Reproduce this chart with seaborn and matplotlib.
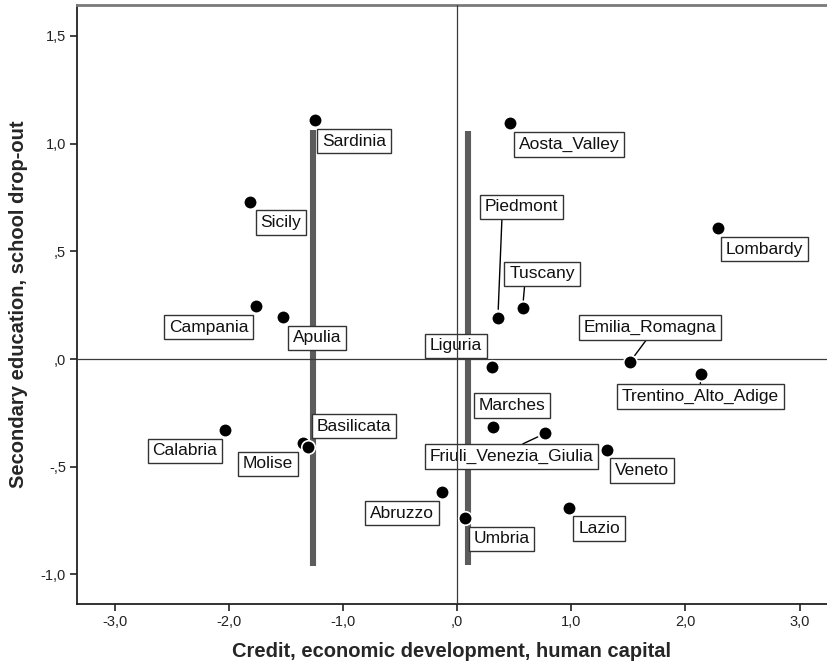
import matplotlib
matplotlib.use("Agg")
import matplotlib.pyplot as plt
from matplotlib.ticker import FuncFormatter, FixedLocator
import seaborn as sns
import pandas as pd

# ---- data ----
regions = ["Sardinia", "Sicily", "Campania", "Apulia", "Calabria", "Molise",
           "Basilicata", "Abruzzo", "Aosta_Valley", "Piedmont", "Tuscany",
           "Lombardy", "Emilia_Romagna", "Trentino_Alto_Adige", "Liguria",
           "Marches", "Friuli_Venezia_Giulia", "Veneto", "Lazio", "Umbria"]
credit = [-1.246, -1.816, -1.763, -1.526, -2.035, -1.348, -1.304, -0.129,
          0.459, 0.357, 0.573, 2.287, 1.512, 2.132, 0.304, 0.310, 0.772,
          1.313, 0.982, 0.070]
education = [1.109, 0.729, 0.246, 0.195, -0.329, -0.391, -0.410, -0.619,
             1.094, 0.192, 0.235, 0.609, -0.015, -0.071, -0.036, -0.314,
             -0.345, -0.422, -0.690, -0.739]

# grey vertical bars (x position, bottom, top)
bar_x = [-1.266, 0.096]
bar_low = [-0.961, -0.956]
bar_high = [1.063, 1.058]

x_ticks = [-3.0, -2.0, -1.0, 0.0, 1.0, 2.0, 3.0]
y_ticks = [-1.0, -0.5, 0.0, 0.5, 1.0, 1.5]

# ---- layout: label offsets (pixels, right / down) and leader-line anchors ----
label_offsets = {
    "Sardinia": (39, 21), "Sicily": (31, 20.5), "Campania": (-47.5, 21),
    "Apulia": (34, 21), "Calabria": (-40, 21), "Molise": (-35.3, 20.7),
    "Basilicata": (45.7, -21.3), "Abruzzo": (-40.6, 20.7),
    "Aosta_Valley": (59.7, 21.2), "Piedmont": (23.3, -110.7),
    "Tuscany": (19.5, -34.5), "Lombardy": (46.3, 21.3),
    "Emilia_Romagna": (20, -34.5), "Trentino_Alto_Adige": (-0.2, 22.4),
    "Liguria": (-35.9, -20.9), "Marches": (19.7, -20.9),
    "Friuli_Venezia_Giulia": (-33.7, 23.4), "Veneto": (35.3, 20.8),
    "Lazio": (29.8, 20.6), "Umbria": (36.3, 20.7),
}
leaders = {"Piedmont": (0.24, 0.0), "Tuscany": (0.24, 0.0),
           "Emilia_Romagna": (0.5, 0.0), "Friuli_Venezia_Giulia": (0.5, 1.0),
           "Trentino_Alto_Adige": (0.5, 1.0)}

df = pd.DataFrame({"region": regions, "credit": credit, "education": education})

sns.set_style("white")
plt.rcParams["font.family"] = ["Liberation Sans", "DejaVu Sans"]

fig = plt.figure(figsize=(8.27, 6.68), dpi=100)
ax = fig.add_axes([77 / 827, 1 - 604 / 668, 1 - 77 / 827, (604 - 5) / 668])

# grey bars
ax.vlines(bar_x, bar_low, bar_high, colors="#5c5c5c", linewidth=4.4, zorder=1)

# reference lines at zero
ax.axhline(0, color="#3a3a3a", linewidth=0.9, zorder=4)
ax.axvline(0, color="#3a3a3a", linewidth=0.9, zorder=4)

sns.scatterplot(data=df, x="credit", y="education", ax=ax, s=95, color="black",
                edgecolor="white", linewidth=1.2, zorder=5, legend=False)

for r, xv, yv in zip(regions, credit, education):
    dx, dy = label_offsets[r]
    kw = {}
    if r in leaders:
        kw["arrowprops"] = dict(arrowstyle="-", color="black", lw=1.0,
                                relpos=leaders[r], shrinkA=0, shrinkB=6)
    ax.annotate(r, (xv, yv), xytext=(dx, -dy), textcoords="offset pixels",
                ha="center", va="center", fontsize=12.5, color="#111111",
                bbox=dict(boxstyle="square,pad=0.28", fc="white",
                          ec="#333333", lw=1.0),
                zorder=3, **kw)

ax.set_xlim(-3.33, 3.24)
ax.set_ylim(-1.137, 1.643)


def fmt(v, pos=None):
    s = f"{v:.1f}".replace(".", ",")
    if s.startswith("0,"):
        s = s[1:]
    elif s.startswith("-0,"):
        s = "-" + s[2:]
    return s


ax.xaxis.set_major_locator(FixedLocator(x_ticks))
ax.yaxis.set_major_locator(FixedLocator(y_ticks))
ax.xaxis.set_major_formatter(FuncFormatter(fmt))
ax.yaxis.set_major_formatter(FuncFormatter(fmt))
ax.tick_params(axis="both", which="major", direction="out", length=5,
               width=1.2, color="#222222", labelsize=10.5,
               labelcolor="#222222", pad=3)
ax.tick_params(axis="x", bottom=True)
ax.tick_params(axis="y", left=True)

for side in ["left", "bottom"]:
    ax.spines[side].set_color("#222222")
    ax.spines[side].set_linewidth(1.3)
ax.spines["top"].set_color("#7a7a7a")
ax.spines["top"].set_linewidth(2.0)
ax.spines["right"].set_visible(False)

ax.set_xlabel("Credit, economic development, human capital",
              fontsize=14.5, fontweight="bold", labelpad=9)
ax.set_ylabel("Secondary education, school drop-out",
              fontsize=14.5, fontweight="bold", labelpad=9)

fig.savefig("out.png", dpi=100)
